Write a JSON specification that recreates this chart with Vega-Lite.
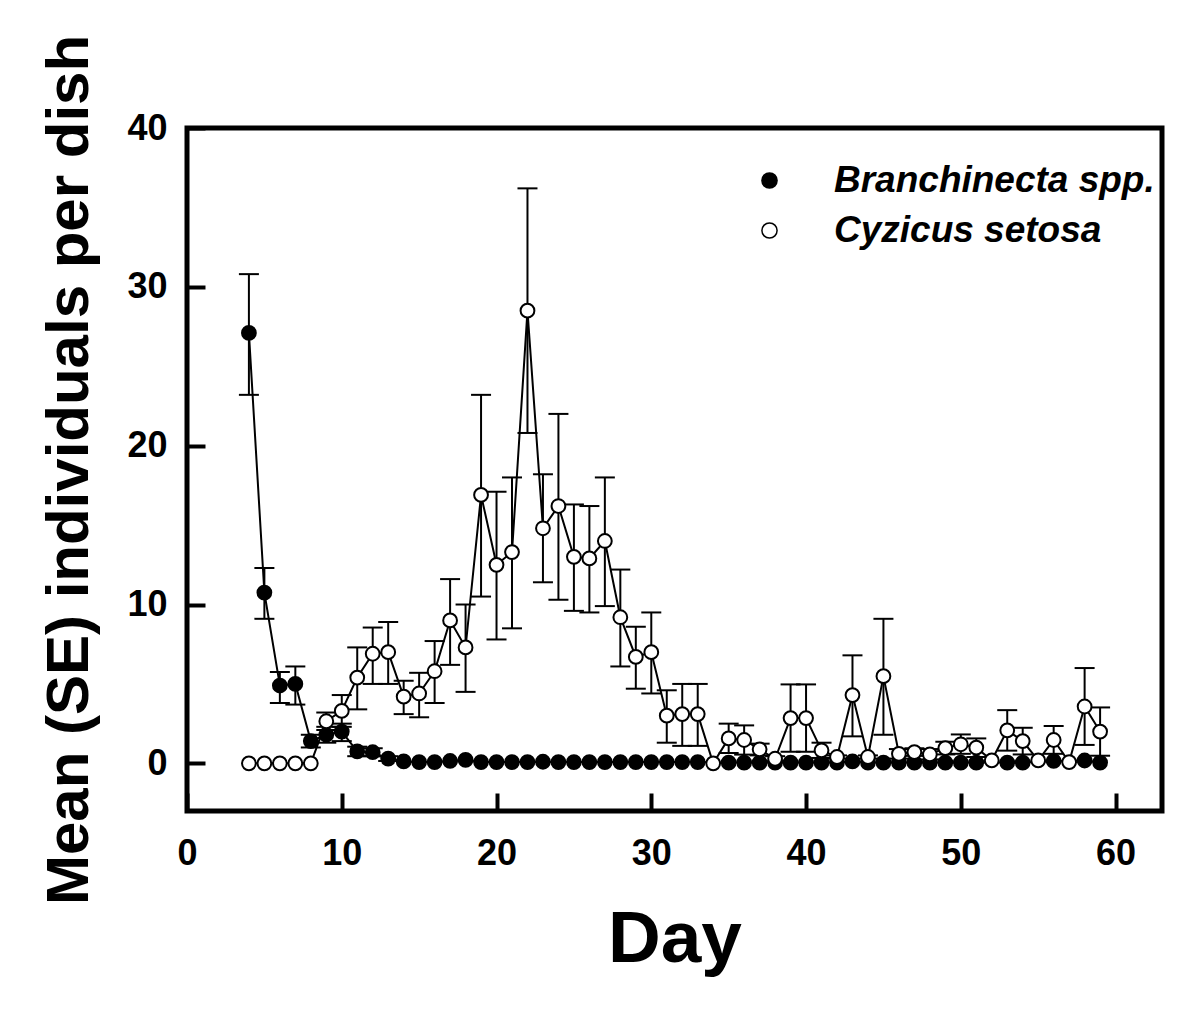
{
  "$schema": "https://vega.github.io/schema/vega-lite/v6.json",
  "autosize": "none",
  "width": 975,
  "height": 683,
  "padding": {"left": 187, "top": 128, "right": 38, "bottom": 200},
  "background": "white",
  "config": {
    "view": {"stroke": "black", "strokeWidth": 5},
    "font": "Liberation Sans",
    "axis": {
      "domain": false,
      "grid": false,
      "ticks": true,
      "tickColor": "black",
      "tickWidth": 4,
      "tickSize": -18,
      "labelFlush": false,
      "labelFont": "Liberation Sans",
      "labelFontWeight": "bold",
      "labelFontSize": 36,
      "labelColor": "black",
      "titleFont": "Liberation Sans",
      "titleFontWeight": "bold",
      "titleColor": "black"
    }
  },
  "data": {
    "values": [
      {"species": "Branchinecta spp.", "day": 4, "mean": 27.1, "lo": 23.2, "hi": 30.8},
      {"species": "Branchinecta spp.", "day": 5, "mean": 10.75, "lo": 9.1, "hi": 12.3},
      {"species": "Branchinecta spp.", "day": 6, "mean": 4.9, "lo": 3.8, "hi": 5.75},
      {"species": "Branchinecta spp.", "day": 7, "mean": 5.0, "lo": 3.7, "hi": 6.1},
      {"species": "Branchinecta spp.", "day": 8, "mean": 1.4, "lo": 1.0, "hi": 1.8},
      {"species": "Branchinecta spp.", "day": 9, "mean": 1.8, "lo": 1.3, "hi": 2.3},
      {"species": "Branchinecta spp.", "day": 10, "mean": 2.0, "lo": 1.4, "hi": 2.5},
      {"species": "Branchinecta spp.", "day": 11, "mean": 0.75, "lo": 0.45, "hi": 1.05},
      {"species": "Branchinecta spp.", "day": 12, "mean": 0.7, "lo": 0.45, "hi": 0.95},
      {"species": "Branchinecta spp.", "day": 13, "mean": 0.3, "lo": 0.15, "hi": 0.45},
      {"species": "Branchinecta spp.", "day": 14, "mean": 0.12, "lo": null, "hi": null},
      {"species": "Branchinecta spp.", "day": 15, "mean": 0.08, "lo": null, "hi": null},
      {"species": "Branchinecta spp.", "day": 16, "mean": 0.08, "lo": null, "hi": null},
      {"species": "Branchinecta spp.", "day": 17, "mean": 0.15, "lo": null, "hi": null},
      {"species": "Branchinecta spp.", "day": 18, "mean": 0.22, "lo": null, "hi": null},
      {"species": "Branchinecta spp.", "day": 19, "mean": 0.08, "lo": null, "hi": null},
      {"species": "Branchinecta spp.", "day": 20, "mean": 0.08, "lo": null, "hi": null},
      {"species": "Branchinecta spp.", "day": 21, "mean": 0.08, "lo": null, "hi": null},
      {"species": "Branchinecta spp.", "day": 22, "mean": 0.08, "lo": null, "hi": null},
      {"species": "Branchinecta spp.", "day": 23, "mean": 0.1, "lo": null, "hi": null},
      {"species": "Branchinecta spp.", "day": 24, "mean": 0.08, "lo": null, "hi": null},
      {"species": "Branchinecta spp.", "day": 25, "mean": 0.08, "lo": null, "hi": null},
      {"species": "Branchinecta spp.", "day": 26, "mean": 0.08, "lo": null, "hi": null},
      {"species": "Branchinecta spp.", "day": 27, "mean": 0.08, "lo": null, "hi": null},
      {"species": "Branchinecta spp.", "day": 28, "mean": 0.08, "lo": null, "hi": null},
      {"species": "Branchinecta spp.", "day": 29, "mean": 0.08, "lo": null, "hi": null},
      {"species": "Branchinecta spp.", "day": 30, "mean": 0.08, "lo": null, "hi": null},
      {"species": "Branchinecta spp.", "day": 31, "mean": 0.08, "lo": null, "hi": null},
      {"species": "Branchinecta spp.", "day": 32, "mean": 0.08, "lo": null, "hi": null},
      {"species": "Branchinecta spp.", "day": 33, "mean": 0.08, "lo": null, "hi": null},
      {"species": "Branchinecta spp.", "day": 35, "mean": 0.05, "lo": null, "hi": null},
      {"species": "Branchinecta spp.", "day": 36, "mean": 0.05, "lo": null, "hi": null},
      {"species": "Branchinecta spp.", "day": 37, "mean": 0.05, "lo": null, "hi": null},
      {"species": "Branchinecta spp.", "day": 38, "mean": 0.05, "lo": null, "hi": null},
      {"species": "Branchinecta spp.", "day": 39, "mean": 0.05, "lo": null, "hi": null},
      {"species": "Branchinecta spp.", "day": 40, "mean": 0.05, "lo": null, "hi": null},
      {"species": "Branchinecta spp.", "day": 41, "mean": 0.05, "lo": null, "hi": null},
      {"species": "Branchinecta spp.", "day": 42, "mean": 0.05, "lo": null, "hi": null},
      {"species": "Branchinecta spp.", "day": 43, "mean": 0.12, "lo": null, "hi": null},
      {"species": "Branchinecta spp.", "day": 44, "mean": 0.05, "lo": null, "hi": null},
      {"species": "Branchinecta spp.", "day": 45, "mean": 0.05, "lo": null, "hi": null},
      {"species": "Branchinecta spp.", "day": 46, "mean": 0.05, "lo": null, "hi": null},
      {"species": "Branchinecta spp.", "day": 47, "mean": 0.05, "lo": null, "hi": null},
      {"species": "Branchinecta spp.", "day": 48, "mean": 0.05, "lo": null, "hi": null},
      {"species": "Branchinecta spp.", "day": 49, "mean": 0.05, "lo": null, "hi": null},
      {"species": "Branchinecta spp.", "day": 50, "mean": 0.05, "lo": null, "hi": null},
      {"species": "Branchinecta spp.", "day": 51, "mean": 0.05, "lo": null, "hi": null},
      {"species": "Branchinecta spp.", "day": 53, "mean": 0.05, "lo": null, "hi": null},
      {"species": "Branchinecta spp.", "day": 54, "mean": 0.05, "lo": null, "hi": null},
      {"species": "Branchinecta spp.", "day": 56, "mean": 0.15, "lo": null, "hi": null},
      {"species": "Branchinecta spp.", "day": 58, "mean": 0.18, "lo": null, "hi": null},
      {"species": "Branchinecta spp.", "day": 59, "mean": 0.05, "lo": null, "hi": null},
      {"species": "Cyzicus setosa", "day": 4, "mean": 0, "lo": null, "hi": null},
      {"species": "Cyzicus setosa", "day": 5, "mean": 0, "lo": null, "hi": null},
      {"species": "Cyzicus setosa", "day": 6, "mean": 0, "lo": null, "hi": null},
      {"species": "Cyzicus setosa", "day": 7, "mean": 0, "lo": null, "hi": null},
      {"species": "Cyzicus setosa", "day": 8, "mean": 0, "lo": null, "hi": null},
      {"species": "Cyzicus setosa", "day": 9, "mean": 2.65, "lo": 2.1, "hi": 3.2},
      {"species": "Cyzicus setosa", "day": 10, "mean": 3.3, "lo": 2.3, "hi": 4.3},
      {"species": "Cyzicus setosa", "day": 11, "mean": 5.4, "lo": 3.4, "hi": 7.3},
      {"species": "Cyzicus setosa", "day": 12, "mean": 6.9, "lo": 5.0, "hi": 8.55},
      {"species": "Cyzicus setosa", "day": 13, "mean": 7.0, "lo": 5.0, "hi": 8.9},
      {"species": "Cyzicus setosa", "day": 14, "mean": 4.2, "lo": 3.1, "hi": 5.2},
      {"species": "Cyzicus setosa", "day": 15, "mean": 4.4, "lo": 2.9, "hi": 5.7},
      {"species": "Cyzicus setosa", "day": 16, "mean": 5.8, "lo": 3.8, "hi": 7.7},
      {"species": "Cyzicus setosa", "day": 17, "mean": 9.0, "lo": 6.2, "hi": 11.6},
      {"species": "Cyzicus setosa", "day": 18, "mean": 7.3, "lo": 4.5, "hi": 10.0},
      {"species": "Cyzicus setosa", "day": 19, "mean": 16.9, "lo": 10.5, "hi": 23.2},
      {"species": "Cyzicus setosa", "day": 20, "mean": 12.5, "lo": 7.8, "hi": 17.1},
      {"species": "Cyzicus setosa", "day": 21, "mean": 13.3, "lo": 8.5, "hi": 18.0},
      {"species": "Cyzicus setosa", "day": 22, "mean": 28.5, "lo": 20.8, "hi": 36.2},
      {"species": "Cyzicus setosa", "day": 23, "mean": 14.8, "lo": 11.4, "hi": 18.2},
      {"species": "Cyzicus setosa", "day": 24, "mean": 16.2, "lo": 10.3, "hi": 22.0},
      {"species": "Cyzicus setosa", "day": 25, "mean": 13.0, "lo": 9.6, "hi": 16.3},
      {"species": "Cyzicus setosa", "day": 26, "mean": 12.9, "lo": 9.5, "hi": 16.2},
      {"species": "Cyzicus setosa", "day": 27, "mean": 14.0, "lo": 9.9, "hi": 18.0},
      {"species": "Cyzicus setosa", "day": 28, "mean": 9.2, "lo": 6.1, "hi": 12.2},
      {"species": "Cyzicus setosa", "day": 29, "mean": 6.7, "lo": 4.7, "hi": 8.6},
      {"species": "Cyzicus setosa", "day": 30, "mean": 7.0, "lo": 4.4, "hi": 9.5},
      {"species": "Cyzicus setosa", "day": 31, "mean": 3.0, "lo": 1.3, "hi": 4.6},
      {"species": "Cyzicus setosa", "day": 32, "mean": 3.1, "lo": 1.1, "hi": 5.0},
      {"species": "Cyzicus setosa", "day": 33, "mean": 3.1, "lo": 1.1, "hi": 5.0},
      {"species": "Cyzicus setosa", "day": 34, "mean": 0, "lo": null, "hi": null},
      {"species": "Cyzicus setosa", "day": 35, "mean": 1.57, "lo": 0.65, "hi": 2.5},
      {"species": "Cyzicus setosa", "day": 36, "mean": 1.47, "lo": 0.55, "hi": 2.39},
      {"species": "Cyzicus setosa", "day": 37, "mean": 0.88, "lo": 0.5, "hi": 1.24},
      {"species": "Cyzicus setosa", "day": 38, "mean": 0.29, "lo": 0.13, "hi": 0.45},
      {"species": "Cyzicus setosa", "day": 39, "mean": 2.85, "lo": 0.73, "hi": 4.97},
      {"species": "Cyzicus setosa", "day": 40, "mean": 2.85, "lo": 0.73, "hi": 4.97},
      {"species": "Cyzicus setosa", "day": 41, "mean": 0.82, "lo": 0.34, "hi": 1.3},
      {"species": "Cyzicus setosa", "day": 42, "mean": 0.4, "lo": 0.3, "hi": 0.5},
      {"species": "Cyzicus setosa", "day": 43, "mean": 4.3, "lo": 1.7, "hi": 6.8},
      {"species": "Cyzicus setosa", "day": 44, "mean": 0.4, "lo": 0.3, "hi": 0.5},
      {"species": "Cyzicus setosa", "day": 45, "mean": 5.49, "lo": 1.8, "hi": 9.1},
      {"species": "Cyzicus setosa", "day": 46, "mean": 0.6, "lo": 0.3, "hi": 0.9},
      {"species": "Cyzicus setosa", "day": 47, "mean": 0.71, "lo": 0.47, "hi": 0.95},
      {"species": "Cyzicus setosa", "day": 48, "mean": 0.57, "lo": 0.25, "hi": 0.9},
      {"species": "Cyzicus setosa", "day": 49, "mean": 0.96, "lo": 0.56, "hi": 1.36},
      {"species": "Cyzicus setosa", "day": 50, "mean": 1.2, "lo": 0.6, "hi": 1.82},
      {"species": "Cyzicus setosa", "day": 51, "mean": 0.99, "lo": 0.4, "hi": 1.57},
      {"species": "Cyzicus setosa", "day": 52, "mean": 0.19, "lo": null, "hi": null},
      {"species": "Cyzicus setosa", "day": 53, "mean": 2.08, "lo": 0.8, "hi": 3.35},
      {"species": "Cyzicus setosa", "day": 54, "mean": 1.4, "lo": 0.56, "hi": 2.24},
      {"species": "Cyzicus setosa", "day": 55, "mean": 0.19, "lo": null, "hi": null},
      {"species": "Cyzicus setosa", "day": 56, "mean": 1.47, "lo": 0.6, "hi": 2.35},
      {"species": "Cyzicus setosa", "day": 57, "mean": 0.08, "lo": null, "hi": null},
      {"species": "Cyzicus setosa", "day": 58, "mean": 3.58, "lo": 1.16, "hi": 6.0},
      {"species": "Cyzicus setosa", "day": 59, "mean": 2.0, "lo": 0.48, "hi": 3.52}
    ]
  },
  "encoding": {
    "x": {
      "field": "day",
      "type": "quantitative",
      "scale": {"domain": [0, 63], "nice": false, "zero": false},
      "axis": {"values": [0, 10, 20, 30, 40, 50, 60], "title": "Day", "titleFontSize": 73, "labelPadding": 43, "titlePadding": 32}
    }
  },
  "layer": [
    {
      "mark": {"type": "line", "color": "black", "strokeWidth": 2},
      "encoding": {
        "y": {
          "field": "mean",
          "type": "quantitative",
          "scale": {"domain": [-3, 40], "nice": false, "zero": false},
          "axis": {"values": [0, 10, 20, 30, 40], "title": "Mean (SE) individuals per dish", "titleFontSize": 60, "labelPadding": 38, "titlePadding": 26}
        },
        "detail": {"field": "species"}
      }
    },
    {
      "transform": [{"filter": "datum.lo != null"}],
      "mark": {"type": "rule", "color": "black", "strokeWidth": 2},
      "encoding": {
        "y": {"field": "lo", "type": "quantitative"},
        "y2": {"field": "hi"}
      }
    },
    {
      "transform": [{"filter": "datum.lo != null"}],
      "mark": {"type": "tick", "orient": "horizontal", "color": "black", "size": 20, "thickness": 2, "opacity": 1},
      "encoding": {
        "y": {"field": "lo", "type": "quantitative"}
      }
    },
    {
      "transform": [{"filter": "datum.hi != null"}],
      "mark": {"type": "tick", "orient": "horizontal", "color": "black", "size": 20, "thickness": 2, "opacity": 1},
      "encoding": {
        "y": {"field": "hi", "type": "quantitative"}
      }
    },
    {
      "mark": {"type": "circle", "size": 190, "stroke": "black", "strokeWidth": 2, "opacity": 1},
      "encoding": {
        "y": {"field": "mean", "type": "quantitative"},
        "fill": {
          "field": "species",
          "type": "nominal",
          "scale": {"domain": ["Branchinecta spp.", "Cyzicus setosa"], "range": ["black", "white"]},
          "legend": {
            "title": null,
            "orient": "none",
            "legendX": 564,
            "legendY": 34,
            "symbolType": "circle",
            "symbolSize": 230,
            "symbolStrokeColor": "black",
            "symbolStrokeWidth": 1.5,
            "symbolOpacity": 1,
            "labelFont": "Liberation Sans",
            "labelFontSize": 37,
            "labelFontStyle": "italic",
            "labelFontWeight": "bold",
            "labelColor": "black",
            "labelOffset": 46,
            "labelLimit": 0,
            "rowPadding": 12
          }
        }
      }
    }
  ]
}
